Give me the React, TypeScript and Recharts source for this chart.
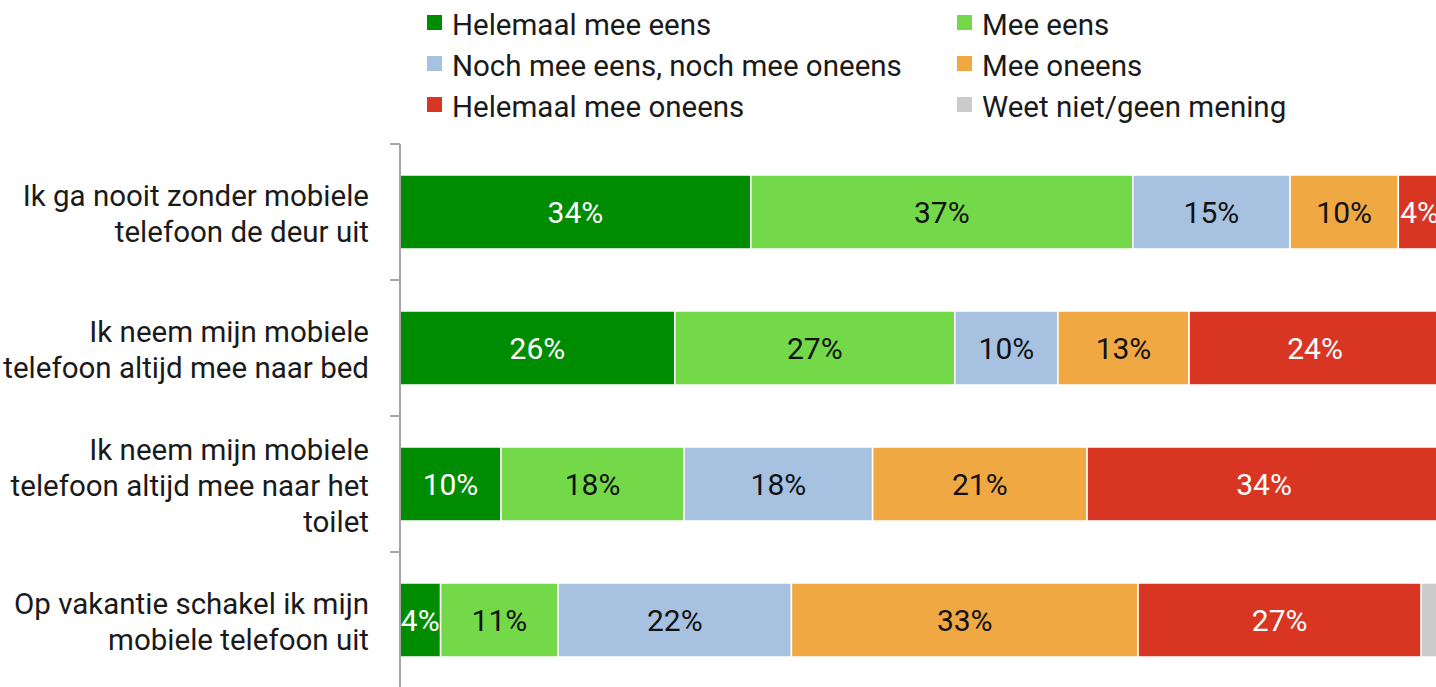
import React from "react"
import { BarChart, Bar, XAxis, YAxis, Legend, LabelList } from "recharts"

const categories = [
  "Ik ga nooit zonder mobiele\ntelefoon de deur uit",
  "Ik neem mijn mobiele\ntelefoon altijd mee naar bed",
  "Ik neem mijn mobiele\ntelefoon altijd mee naar het\ntoilet",
  "Op vakantie schakel ik mijn\nmobiele telefoon uit",
]
const helemaalMeeEens = [33.7, 26.4, 9.7, 3.9]
const meeEens = [36.7, 26.9, 17.6, 11.3]
const noch = [15.1, 9.9, 18.1, 22.4]
const meeOneens = [10.4, 12.6, 20.6, 33.3]
const helemaalMeeOneens = [4.1, 24.2, 34.0, 27.2]
const weetNiet = [0, 0, 0, 1.9]

const series = [
  { key: "hme", name: "Helemaal mee eens", color: "#008c00", text: "#ffffff", values: helemaalMeeEens, label: true },
  { key: "me", name: "Mee eens", color: "#73d948", text: "#111111", values: meeEens, label: true },
  { key: "noch", name: "Noch mee eens, noch mee oneens", color: "#a7c1e0", text: "#111111", values: noch, label: true },
  { key: "mo", name: "Mee oneens", color: "#f0a843", text: "#111111", values: meeOneens, label: true },
  { key: "hmo", name: "Helemaal mee oneens", color: "#d83623", text: "#ffffff", values: helemaalMeeOneens, label: true },
  { key: "wn", name: "Weet niet/geen mening", color: "#cbcbcb", text: "#111111", values: weetNiet, label: false },
]

const data = categories.map((c, i) => {
  const row: Record<string, number | string> = { cat: c }
  series.forEach((s) => { row[s.key] = s.values[i] })
  return row
})

const FONT = "Roboto, 'DejaVu Sans', sans-serif"
const W = 1450
const H = 688
const M = { top: 144, right: 9, bottom: 0, left: 0 }
const AXIS_W = 400
const BAND = (H - M.top - M.bottom) / categories.length
const LINE_H = 36

function CatTick(props: any) {
  const { x, y, payload } = props
  const lines = String(payload.value).split("\n")
  const first = y - ((lines.length - 1) * LINE_H) / 2 + 12
  return (
    <g>
      <line x1={x - 2} x2={x + 8} y1={y - BAND / 2} y2={y - BAND / 2} stroke="#a6a6a6" strokeWidth={2} />
      <text textAnchor="end" fontSize={29.5} fill="#1a1a1a" fontFamily={FONT}>
        {lines.map((l, i) => (
          <tspan key={i} x={x - 23} y={first + i * LINE_H}>{l}</tspan>
        ))}
      </text>
    </g>
  )
}

function clippedLabel(key: string, color: string) {
  return (props: any) => {
    const { x, y, width, height, value, index } = props
    if (!value) return null
    const id = `clip-${key}-${index}`
    return (
      <g>
        <defs>
          <clipPath id={id}>
            <rect x={x} y={y} width={width} height={height} />
          </clipPath>
        </defs>
        <text
          x={x + width / 2}
          y={y + height / 2}
          dy={11}
          textAnchor="middle"
          fontSize={30}
          fill={color}
          fontFamily={FONT}
          clipPath={`url(#${id})`}
        >
          {Math.round(value)}%
        </text>
      </g>
    )
  }
}

function LegendBox(props: any) {
  const items = [...(props.payload || [])].sort(
    (a: any, b: any) => series.findIndex((s) => s.name === a.value) - series.findIndex((s) => s.name === b.value)
  )
  return (
    <div style={{ display: "grid", gridTemplateColumns: "530px 480px", paddingLeft: 427, paddingTop: 4, fontFamily: FONT }}>
      {items.map((it: any) => (
        <div key={it.value} style={{ display: "flex", alignItems: "center", height: 41, fontSize: 29.5, color: "#1a1a1a" }}>
          <span style={{ display: "inline-block", width: 15, height: 15, background: it.color, marginRight: 10, marginTop: -4 }} />
          {it.value}
        </div>
      ))}
    </div>
  )
}

export default function App() {
  return (
    <div style={{ position: "fixed", left: 0, top: 0, width: 1436, height: 687, overflow: "hidden", background: "#fff" }}>
      <BarChart width={W} height={H} data={data} layout="vertical" margin={M} barSize={74}>
        <XAxis type="number" domain={[0, 100]} hide />
        <YAxis
          type="category"
          dataKey="cat"
          width={AXIS_W}
          axisLine={{ stroke: "#a6a6a6", strokeWidth: 2 }}
          tickLine={false}
          tick={<CatTick />}
          interval={0}
        />
        <Legend
          layout="vertical"
          verticalAlign="middle"
          align="center"
          wrapperStyle={{ top: 0, left: 0, width: 1436 }}
          content={<LegendBox />}
        />
        {series.map((s) => (
          <Bar key={s.key} dataKey={s.key} name={s.name} stackId="a" fill={s.color} stroke="#ffffff" strokeWidth={1.5} isAnimationActive={false}>
            {s.label && <LabelList dataKey={s.key} content={clippedLabel(s.key, s.text)} />}
          </Bar>
        ))}
      </BarChart>
    </div>
  )
}
